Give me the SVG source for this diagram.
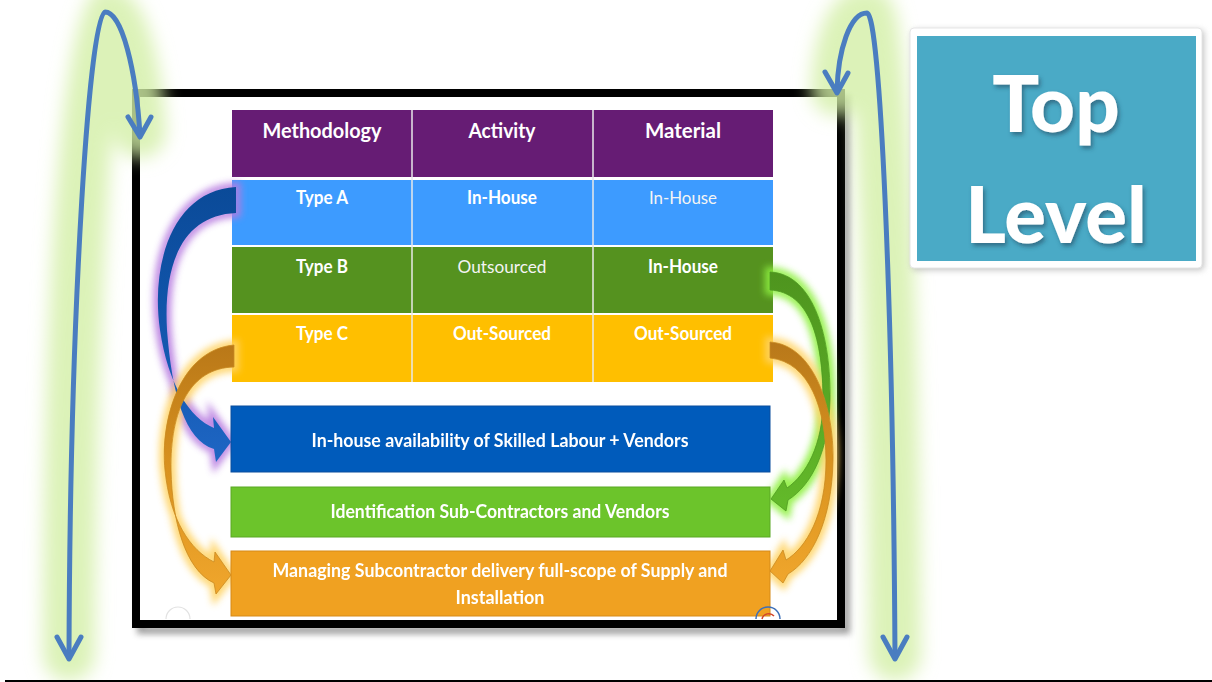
<svg xmlns="http://www.w3.org/2000/svg" width="1212" height="682" viewBox="0 0 1212 682">
<defs>
<style>
.hd{font-family:Lato,"Liberation Sans",sans-serif;font-weight:bold;font-size:20px;fill:#fff;text-anchor:middle}
.b{font-family:Lato,"Liberation Sans",sans-serif;font-weight:bold;font-size:18px;fill:#fff;text-anchor:middle}
.r{font-family:Lato,"Liberation Sans",sans-serif;font-weight:normal;font-size:18px;fill:#f4f4f4;text-anchor:middle}
.big{font-family:Lato,"Liberation Sans",sans-serif;font-weight:900;font-size:78px;fill:#fff;text-anchor:middle}
.arch{fill:none;stroke:#4A7DC0;stroke-width:5;stroke-linecap:round;stroke-linejoin:round}
.halo{fill:none;stroke:#D3EFA6;stroke-width:52;stroke-linecap:round;opacity:.8}
.div{stroke:#e8e8e8;stroke-width:1.5}
</style>
<filter id="blurBig" x="-50%" y="-20%" width="200%" height="140%"><feGaussianBlur stdDeviation="9"/></filter>
<filter id="blurSoft" x="-50%" y="-20%" width="200%" height="140%"><feGaussianBlur stdDeviation="3.5"/></filter>
<filter id="shadow" x="-10%" y="-10%" width="120%" height="120%"><feGaussianBlur stdDeviation="3"/></filter>
<filter id="txtShadow" x="-20%" y="-20%" width="140%" height="140%"><feDropShadow dx="2" dy="3" stdDeviation="2" flood-color="#1b3f55" flood-opacity="0.55"/></filter>
<linearGradient id="gBlue" x1="0" y1="186" x2="0" y2="462" gradientUnits="userSpaceOnUse"><stop offset="0" stop-color="#0A4A98"/><stop offset="0.6" stop-color="#1458B0"/><stop offset="1" stop-color="#1E66C4"/></linearGradient>
<linearGradient id="gOrL" x1="0" y1="345" x2="0" y2="594" gradientUnits="userSpaceOnUse"><stop offset="0" stop-color="#B97818"/><stop offset="0.5" stop-color="#D9921F"/><stop offset="1" stop-color="#F0A62C"/></linearGradient>
<linearGradient id="gGrR" x1="0" y1="272" x2="0" y2="511" gradientUnits="userSpaceOnUse"><stop offset="0" stop-color="#4E941E"/><stop offset="1" stop-color="#63BA2A"/></linearGradient>
<linearGradient id="gOrR" x1="0" y1="342" x2="0" y2="583" gradientUnits="userSpaceOnUse"><stop offset="0" stop-color="#B8781A"/><stop offset="0.5" stop-color="#D8921F"/><stop offset="1" stop-color="#F0A62C"/></linearGradient>
</defs>

<rect x="0" y="0" width="1212" height="682" fill="#fff"/>

<g id="frame">
<rect x="141" y="99" width="705" height="531" fill="none" stroke="#777" stroke-width="8" filter="url(#shadow)" opacity="0.7"/>
<rect x="136" y="93" width="705" height="531" fill="#fff" stroke="#000" stroke-width="8"/>
</g>

<g id="table">
<g id="header">
<rect x="232" y="110" width="541" height="67" fill="#661C74"/>
<text class="hd" x="322" y="138" textLength="119" lengthAdjust="spacingAndGlyphs">Methodology</text>
<text class="hd" x="502" y="138" textLength="67" lengthAdjust="spacingAndGlyphs">Activity</text>
<text class="hd" x="683" y="138" textLength="76" lengthAdjust="spacingAndGlyphs">Material</text>
</g>
<g id="row-a">
<rect x="232" y="180" width="541" height="65" fill="#3D9BFF"/>
<text class="b" x="322" y="204" textLength="52" lengthAdjust="spacingAndGlyphs">Type A</text>
<text class="b" x="502" y="204" textLength="70" lengthAdjust="spacingAndGlyphs">In-House</text>
<text class="r" x="683" y="204" textLength="68" lengthAdjust="spacingAndGlyphs">In-House</text>
</g>
<g id="row-b">
<rect x="232" y="247" width="541" height="66" fill="#55921F"/>
<text class="b" x="322" y="273" textLength="52" lengthAdjust="spacingAndGlyphs">Type B</text>
<text class="r" x="502" y="273" textLength="89" lengthAdjust="spacingAndGlyphs">Outsourced</text>
<text class="b" x="683" y="273" textLength="70" lengthAdjust="spacingAndGlyphs">In-House</text>
</g>
<g id="row-c">
<rect x="232" y="315" width="541" height="67" fill="#FFBF00"/>
<text class="b" x="322" y="340" textLength="52" lengthAdjust="spacingAndGlyphs">Type C</text>
<text class="b" x="502" y="340" textLength="98" lengthAdjust="spacingAndGlyphs">Out-Sourced</text>
<text class="b" x="683" y="340" textLength="98" lengthAdjust="spacingAndGlyphs">Out-Sourced</text>
</g>
<line class="div" x1="412" y1="110" x2="412" y2="382"/>
<line class="div" x1="593" y1="110" x2="593" y2="382"/>
</g>

<g id="connectors">
<!-- glows under the curved block arrows -->
<path d="M236 187 C175 190 150 260 160 330 C168 385 190 418 214 428 L213 417 L231 442 L216 462 L214 449 C185 440 172 395 167 330 C163 260 185 215 236 213 Z" fill="none" stroke="#B77BE0" stroke-width="9" filter="url(#blurSoft)" opacity="0.9"/>
<path d="M234 345 C180 350 160 420 165 470 C170 520 190 550 214 562 L215 552 L231 575 L216 594 L214 583 C185 570 172 520 171 470 C170 410 190 368 234 367 Z" fill="none" stroke="#FFD466" stroke-width="10" filter="url(#blurSoft)" opacity="0.9"/>
<path d="M770 272 C815 274 831 340 830 400 C829 450 812 485 788 500 L786 511 L771 499 L784 480 L787 488 C806 475 823 445 823 400 C823 340 810 292 770 290 Z" fill="none" stroke="#8EF040" stroke-width="10" filter="url(#blurSoft)" opacity="0.9"/>
<path d="M770 342 C815 345 834 410 833 460 C832 520 812 560 788 574 L783 583 L770 571 L783 550 L786 560 C806 548 826 515 826 460 C826 410 810 362 770 358 Z" fill="none" stroke="#FFD466" stroke-width="10" filter="url(#blurSoft)" opacity="0.9"/>
<!-- curved block arrows -->
<path id="arrow-a" d="M236 187 C175 190 150 260 160 330 C168 385 190 418 214 428 L213 417 L231 442 L216 462 L214 449 C185 440 172 395 167 330 C163 260 185 215 236 213 Z" fill="url(#gBlue)"/>
<path id="arrow-c-left" d="M234 345 C180 350 160 420 165 470 C170 520 190 550 214 562 L215 552 L231 575 L216 594 L214 583 C185 570 172 520 171 470 C170 410 190 368 234 367 Z" fill="url(#gOrL)" stroke="#C98A22" stroke-width="0.8"/>
<path id="arrow-b" d="M770 272 C815 274 831 340 830 400 C829 450 812 485 788 500 L786 511 L771 499 L784 480 L787 488 C806 475 823 445 823 400 C823 340 810 292 770 290 Z" fill="url(#gGrR)" stroke="#4F9A22" stroke-width="0.8"/>
<path id="arrow-c-right" d="M770 342 C815 345 834 410 833 460 C832 520 812 560 788 574 L783 583 L770 571 L783 550 L786 560 C806 548 826 515 826 460 C826 410 810 362 770 358 Z" fill="url(#gOrR)" stroke="#C98A22" stroke-width="0.8"/>

<!-- green halos behind the blue arches -->
<g filter="url(#blurBig)">
<path class="halo" d="M69 655 C70 300 90 12 105 12 C122 12 136 70 140 132"/>
<path class="halo" d="M895 655 C893 300 880 13 867 13 C850 13 838 50 837 90"/>
</g>
<!-- blue arches -->
<path class="arch" d="M69 657 C70 300 90 12 105 12 C122 12 136 70 140 135"/>
<polyline class="arch" points="128,117 140,137 151,117"/>
<polyline class="arch" points="57,637 69,659 81,637"/>
<path class="arch" d="M895 657 C893 300 880 13 867 13 C850 13 838 50 837 91"/>
<polyline class="arch" points="825,72 837,93 848,73"/>
<polyline class="arch" points="883,637 895,659 907,637"/>
</g>

<g id="box-inhouse">
<rect x="231" y="406" width="539" height="66" fill="#005BBB" stroke="#0A4E9E" stroke-width="1"/>
<text class="b" x="500" y="447" textLength="377" lengthAdjust="spacingAndGlyphs">In-house availability of Skilled Labour + Vendors</text>
</g>
<g id="box-identification">
<rect x="231" y="487" width="539" height="50" fill="#6CC42B" stroke="#5BA824" stroke-width="1"/>
<text class="b" x="500" y="518" textLength="339" lengthAdjust="spacingAndGlyphs">Identification Sub-Contractors and Vendors</text>
</g>
<g id="box-managing">
<rect x="231" y="551" width="539" height="65" fill="#F0A121" stroke="#D68A18" stroke-width="1"/>
<text class="b" x="500" y="577" textLength="455" lengthAdjust="spacingAndGlyphs">Managing Subcontractor delivery full-scope of Supply and</text>
<text class="b" x="500" y="604" textLength="89" lengthAdjust="spacingAndGlyphs">Installation</text>
</g>

<path d="M166 619 A12 12 0 0 1 190 619" fill="none" stroke="#e2e2e2" stroke-width="1.2"/>
<path d="M756 619 A12 12 0 0 1 780 619" fill="none" stroke="#3C6FB8" stroke-width="1.5"/>
<path d="M762 619 A7 7 0 0 1 774 616" fill="none" stroke="#D2452A" stroke-width="1.5"/>

<g id="top-level">
<rect x="912" y="30" width="292" height="240" rx="4" fill="#999" filter="url(#shadow)" opacity="0.6"/>
<rect x="910" y="28" width="292" height="240" rx="4" fill="#fff" stroke="#e6e6e6" stroke-width="1"/>
<rect x="917" y="36" width="279" height="225" fill="#4AAAC6"/>
<text class="big" x="1056" y="132" filter="url(#txtShadow)">Top</text>
<text class="big" x="1056" y="243" filter="url(#txtShadow)">Level</text>
</g>

<line x1="5" y1="681" x2="1212" y2="681" stroke="#000" stroke-width="2"/>
</svg>
